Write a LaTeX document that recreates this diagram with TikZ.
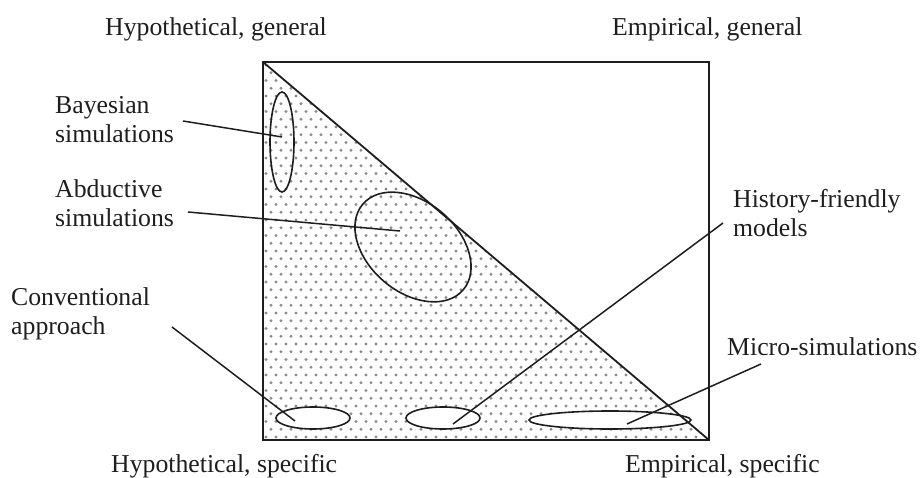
\documentclass[tikz,border=0pt]{standalone}
\usepackage{fontspec}
\setmainfont{Liberation Serif}
\usetikzlibrary{shapes.geometric}
\definecolor{ink}{HTML}{1E1E1E}
\definecolor{dotc}{HTML}{8C8C8C}
\tikzset{
  lbl/.style={anchor=base west, inner sep=0pt, align=left, text=ink,
    font=\fontsize{25.75}{29.5}\selectfont},
  ell/.style={ellipse, draw=ink, line width=1.6pt, inner sep=0pt},
  wellipse/.style={ell, fill=white},
  conn/.style={draw=ink, line width=1.5pt},
  frame/.style={draw=ink, line width=1.8pt},
}
\begin{document}
\begin{tikzpicture}[x=1pt,y=-1pt]
\useasboundingbox (0,0) rectangle (922,478);
% dotted region
\begin{scope}
  \clip (263,62) -- (263,440) -- (709,440) -- cycle;
  \foreach \r in {0,...,49} {
    \pgfmathsetmacro\yy{65+\r*7.75}
    \pgfmathsetmacro\off{mod(\r,2)*5}
    \foreach \c in {0,...,45} {
      \fill[dotc] ({266+\off+\c*10},\yy) circle[radius=1.6pt];
    }
  }
\end{scope}
% ellipses
\node[ell, minimum width=24pt, minimum height=100pt] (bay) at (282,142) {};
\node[ell, minimum width=132pt, minimum height=90pt, rotate=-40.5] (abd) at (413,247) {};
\node[wellipse, minimum width=74pt, minimum height=22pt] (conv) at (313,418) {};
\node[wellipse, minimum width=74pt, minimum height=22pt] (hist) at (443,418) {};
\node[wellipse, minimum width=162pt, minimum height=18pt] (micro) at (610,420) {};
% frame and diagonal
\coordinate (tl) at (263,62);
\coordinate (br) at (709,440);
\draw[frame] (tl) rectangle (br);
\draw[frame] (tl) -- (br);
% labels (base = last line)
\node[lbl] (hg) at (105,36) {Hypothetical, general};
\node[lbl] (eg) at (612,36) {Empirical, general};
\node[lbl] (hs) at (111,472) {Hypothetical, specific};
\node[lbl] (es) at (625,472) {Empirical, specific};
\node[lbl] (bayl) at (55,143) {Bayesian\\simulations};
\node[lbl] (abdl) at (55,227) {Abductive\\simulations};
\node[lbl] (convl) at (11,335) {Conventional\\approach};
\node[lbl] (histl) at (733,237) {History-friendly\\models};
\node[lbl] (microl) at (727,356) {Micro-simulations};
% connector ends
\coordinate (bayA) at (183,121);
\coordinate (bayB) at (282,137);
\coordinate (abdA) at (188,212);
\coordinate (abdB) at (400,231);
\coordinate (convA) at (172,327);
\coordinate (convB) at (295,421);
\coordinate (histA) at (723,223);
\coordinate (histB) at (453,424);
\coordinate (microA) at (761,364);
\coordinate (microB) at (627,424);
\draw[conn] (bayA) -- (bayB);
\draw[conn] (abdA) -- (abdB);
\draw[conn] (convA) -- (convB);
\draw[conn] (histA) -- (histB);
\draw[conn] (microA) -- (microB);
\end{tikzpicture}
\end{document}
